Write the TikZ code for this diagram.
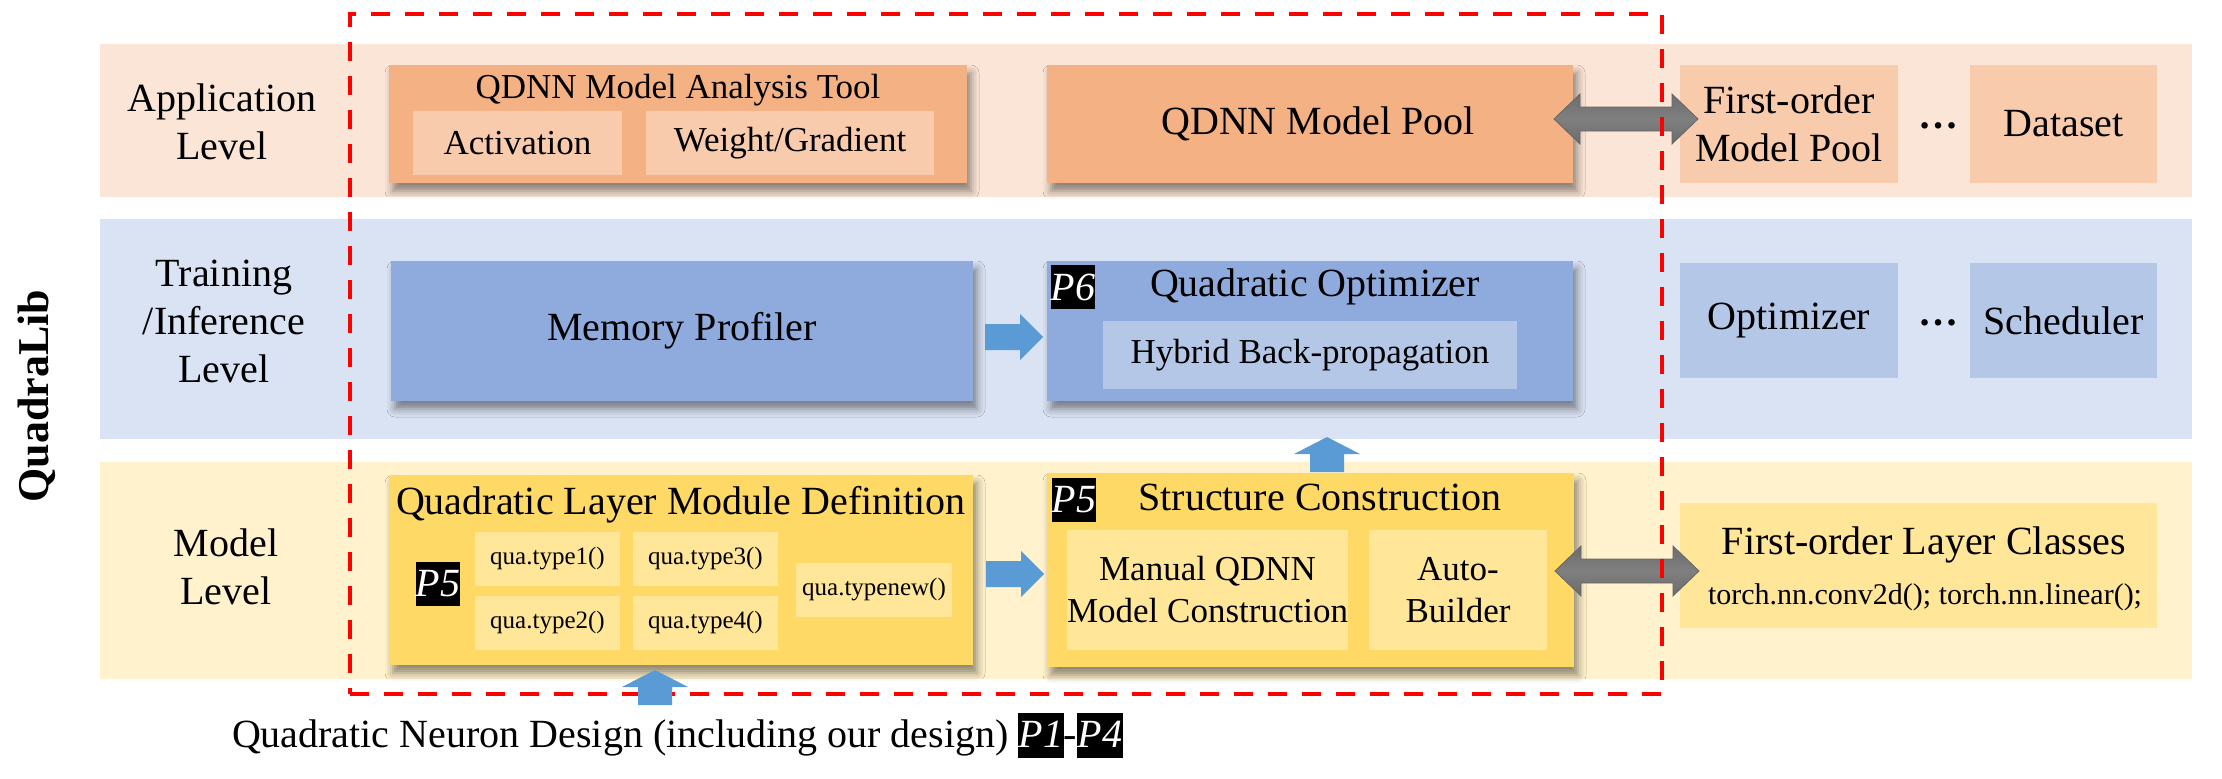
\documentclass[tikz,border=0pt]{standalone}
\usepackage{fontspec}
\setmainfont{Liberation Serif}
\usetikzlibrary{calc,shadows.blur}
\definecolor{appband}{HTML}{FBE5D6}
\definecolor{appbox}{HTML}{F4B183}
\definecolor{appin}{HTML}{F8CBAD}
\definecolor{trband}{HTML}{DAE3F3}
\definecolor{trbox}{HTML}{8FAADC}
\definecolor{trin}{HTML}{B4C7E7}
\definecolor{mdband}{HTML}{FFF2CC}
\definecolor{mdbox}{HTML}{FFD966}
\definecolor{mdin}{HTML}{FFE699}
\definecolor{arrowblue}{HTML}{5B9BD5}
\definecolor{dashred}{HTML}{FF0000}
\newcommand\fsF{\fontsize{40}{48}\selectfont}
\newcommand\fsE{\fontsize{35}{42}\selectfont}
\newcommand\fsS{\fontsize{25}{30}\selectfont}
\newcommand\fsC{\fontsize{30}{36}\selectfont}
\newcommand\fsP{\fontsize{40}{44}\selectfont\itshape}
\newcommand\rightblock[2]{%
  \fill[arrowblue] (#1) ++(0,-13) -- ++({#2-23},0) -- ++(0,-10) -- ++(23,23)
    -- ++(-23,23) -- ++(0,-10) -- ++({-(#2-23)},0) -- cycle;}
\newcommand\upblock[2]{%
  \fill[arrowblue] (#1) ++(-17,0) -- ++(0,{-(#2-17)}) -- ++(-16,0) -- ++(33,-17)
    -- ++(33,17) -- ++(-16,0) -- ++(0,{#2-17}) -- cycle;}
\newcommand\dblblock[2]{%
  \path[dblfill] (#1) -- ++(26,-25) -- ++(0,13) -- ++({#2-52},0) -- ++(0,-13)
    -- ++(26,25) -- ++(-26,25) -- ++(0,-13) -- ++({-(#2-52)},0) -- ++(0,13) -- cycle;}
\tikzset{
  every node/.style={inner sep=0pt, outer sep=0pt},
  band/.style={rectangle, fill=#1, draw=none},
  bx/.style={rectangle, fill=#1, draw=none, align=center},
  shad/.style={blur shadow={shadow xshift=4pt, shadow yshift=-8pt, shadow blur radius=8pt, shadow opacity=45}},
  tF/.style={font=\fsF, align=center},
  tE/.style={font=\fsE, align=center},
  tS/.style={font=\fsS, align=center},
  tC/.style={font=\fsC, align=center},
  plabel/.style={rectangle, fill=black, text=white, font=\fsP, minimum width=44, minimum height=44},
  dblfill/.style={top color=gray!115!white, bottom color=black!58, middle color=black!50, draw=black!60, line width=0.8pt},
  reddash/.style={rectangle, draw=dashred, line width=4.5pt, dash pattern=on 19pt off 15pt},
}
\begin{document}
\begin{tikzpicture}[x=1pt, y=-1pt]
\useasboundingbox (0,0) rectangle (2222,779);
% level bands
\node[band=appband, minimum width=2092, minimum height=153] (bandapp) at (1146,120.5) {};
\node[band=trband, minimum width=2092, minimum height=220] (bandtr) at (1146,329) {};
\node[band=mdband, minimum width=2092, minimum height=217] (bandmd) at (1146,570.5) {};
% side title and level labels
\node[font=\fontsize{44}{48}\selectfont\bfseries, rotate=90] (qlib) at (37,396) {QuadraLib};
\node[tF] (lapp) at (222,122) {Application\\Level};
\node[tF] (ltr) at (224,321) {Training\\/Inference\\Level};
\node[tF] (lmd) at (226,567) {Model\\Level};
% application level
\node[bx=appbox, shad, minimum width=578, minimum height=118] (ana) at (678,124) {};
\node[tE] (anat) at (678,90) {QDNN Model Analysis Tool};
\node[bx=appin, tE, minimum width=209, minimum height=64] (act) at (517.5,143) {Activation};
\node[bx=appin, tE, minimum width=288, minimum height=64] (wg) at (790,143) {Weight/Gradient};
\node[bx=appbox, shad, minimum width=526, minimum height=118] (pool) at (1310,124) {};
\node[tF] (poolt) at (1318,124) {QDNN Model Pool};
\node[bx=appin, tF, minimum width=218, minimum height=118] (fmp) at (1789,124) {First-order\\Model Pool};
\node[font=\fsF\bfseries] (dots1) at (1938,126) {…};
\node[bx=appin, tF, minimum width=187, minimum height=118] (data) at (2063.5,124) {Dataset};
% training / inference level
\node[bx=trbox, shad, tF, minimum width=582, minimum height=140] (mem) at (682,331) {Memory Profiler};
\node[bx=trbox, shad, minimum width=526, minimum height=140] (opt) at (1310,331) {};
\node[plabel] (p6) at (1073,287) {P6};
\node[tF] (optt) at (1315,287) {Quadratic Optimizer};
\node[bx=trin, tE, minimum width=414, minimum height=68] (hbp) at (1310,355) {Hybrid Back-propagation};
\node[bx=trin, tF, minimum width=218, minimum height=115] (optim) at (1789,320.5) {Optimizer};
\node[font=\fsF\bfseries] (dots2) at (1938,323) {…};
\node[bx=trin, tF, minimum width=187, minimum height=115] (sched) at (2063.5,320.5) {Scheduler};
% model level
\node[bx=mdbox, shad, minimum width=584, minimum height=190] (lay) at (681,570) {};
\node[tF] (layt) at (681,505) {Quadratic Layer Module Definition};
\node[plabel] (p5a) at (438,584) {P5};
\node[bx=mdin, tS, minimum width=145, minimum height=54] (t1) at (547.5,559) {qua.type1()};
\node[bx=mdin, tS, minimum width=145, minimum height=54] (t3) at (705.5,559) {qua.type3()};
\node[bx=mdin, tS, minimum width=145, minimum height=54] (t2) at (547.5,623) {qua.type2()};
\node[bx=mdin, tS, minimum width=145, minimum height=54] (t4) at (705.5,623) {qua.type4()};
\node[bx=mdin, tS, minimum width=156, minimum height=54] (tn) at (874,590) {qua.typenew()};
\node[bx=mdbox, shad, minimum width=527, minimum height=194] (str) at (1310.5,570) {};
\node[plabel] (p5b) at (1074,500) {P5};
\node[tF] (strt) at (1320,497) {Structure Construction};
\node[bx=mdin, tE, minimum width=275, minimum height=120] (man) at (1207.5,590) {Manual QDNN\\Model Construction};
\node[bx=mdin, tE, minimum width=178, minimum height=120] (auto) at (1458,590) {Auto-\\Builder};
\node[bx=mdin, minimum width=477, minimum height=125] (flc) at (1918.5,565.5) {};
\node[tF] (flct) at (1924,545) {First-order Layer Classes};
\node[tC] (flcc) at (1925,597) {torch.nn.conv2d(); torch.nn.linear();};
% bottom caption
\node[font=\fsF, anchor=base west] (cap) at (232,747) {Quadratic Neuron Design (including our design) {\fboxsep=0.5pt\colorbox{black}{\rule[-10pt]{0pt}{44pt}\textcolor{white}{\itshape P1}}}-{\fboxsep=0.5pt\colorbox{black}{\rule[-10pt]{0pt}{44pt}\textcolor{white}{\itshape P4}}}};
% block arrows
\coordinate (b1) at ($(mem.east)+(12,6)$);
\coordinate (b2) at ($(lay.east)+(13,4)$);
\coordinate (b3) at ($(str.north)+(16.5,-1)$);
\coordinate (b4) at ($(lay.south)+(-26,40)$);
\coordinate (d1) at ($(pool.east)+(-19,-5)$);
\coordinate (d2) at ($(str.east)+(-19,1)$);
\rightblock{b1}{58}
\rightblock{b2}{58}
\upblock{b3}{35}
\dblblock{d1}{144}
\dblblock{d2}{144}
% core region
\node[reddash, minimum width=1312, minimum height=680] (core) at (1006,354) {};
\upblock{b4}{35}
\end{tikzpicture}
\end{document}
